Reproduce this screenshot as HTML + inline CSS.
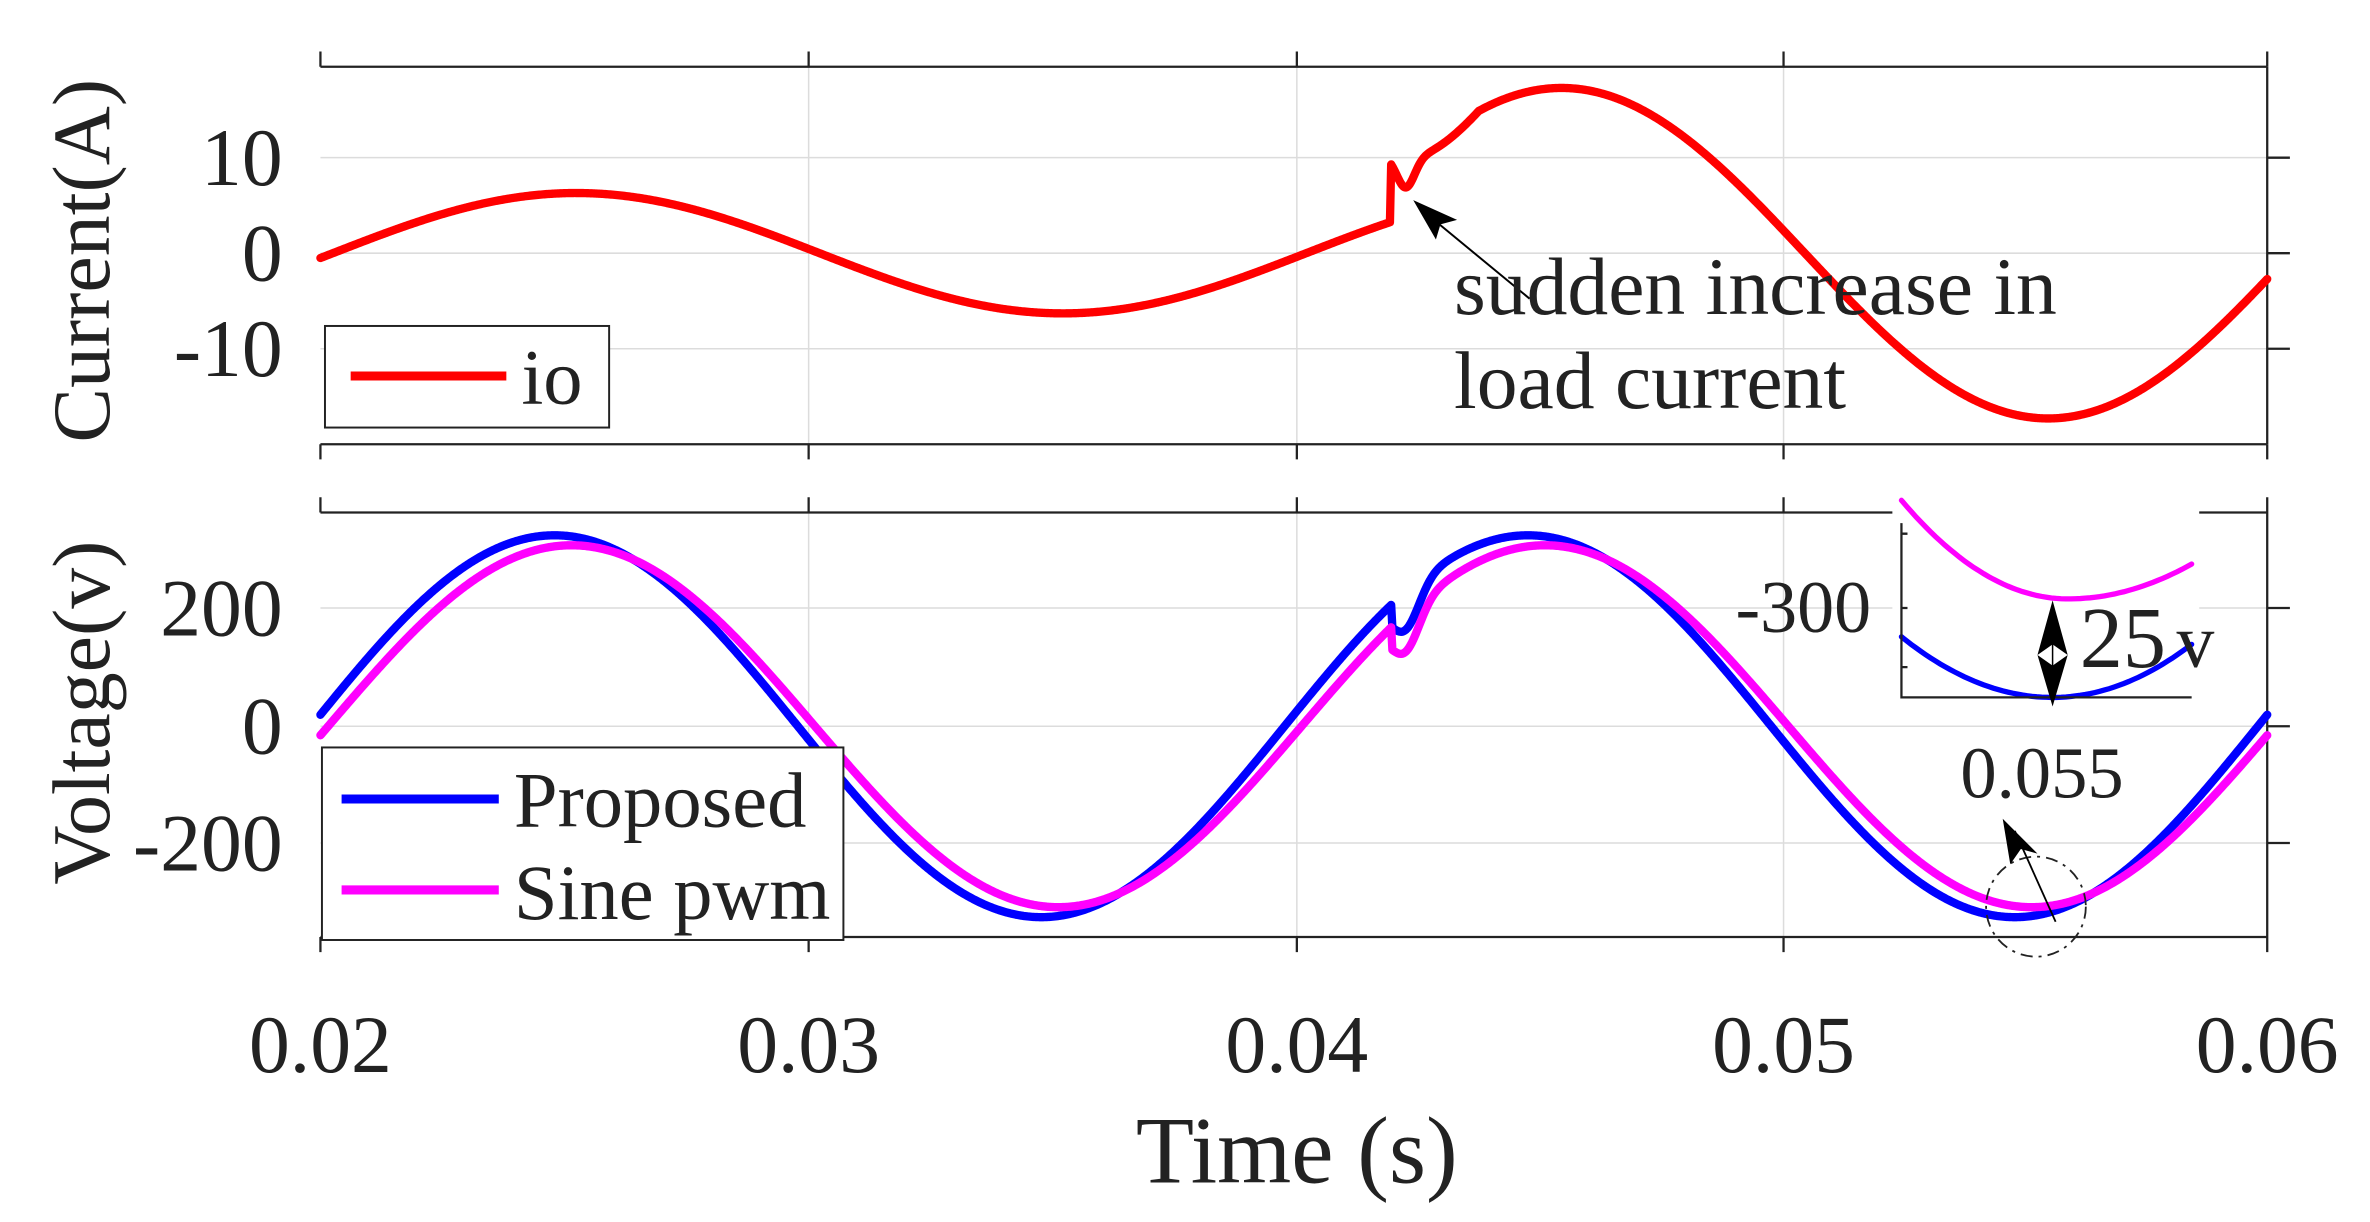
<!DOCTYPE html>
<html><head><meta charset="utf-8"><style>
html,body{margin:0;padding:0;background:#fff;}
svg{display:block;}
text{font-family:"Liberation Serif",serif;fill:#222;}
</style></head><body>
<svg id="s" width="2370" height="1222" viewBox="0 0 1568 806" preserveAspectRatio="none" xmlns="http://www.w3.org/2000/svg">
<g stroke="#dcdcdc" stroke-width="1">
<line x1="535" y1="44" x2="535" y2="293"/><line x1="858" y1="44" x2="858" y2="293"/><line x1="1180" y1="44" x2="1180" y2="293"/>
<line x1="212" y1="104" x2="1500" y2="104"/><line x1="212" y1="167" x2="1500" y2="167"/><line x1="212" y1="230" x2="1500" y2="230"/>
<line x1="535" y1="338" x2="535" y2="618"/><line x1="858" y1="338" x2="858" y2="618"/><line x1="1180" y1="338" x2="1180" y2="618"/>
<line x1="212" y1="401" x2="1500" y2="401"/><line x1="212" y1="479" x2="1500" y2="479"/><line x1="212" y1="556" x2="1500" y2="556"/>
</g>
<g stroke="#222" stroke-width="1.5" fill="none">
<line x1="212" y1="44" x2="1500" y2="44"/><line x1="212" y1="293" x2="1500" y2="293"/>
<line x1="212" y1="338" x2="1500" y2="338"/><line x1="212" y1="618" x2="1500" y2="618"/>
<line x1="1500" y1="44" x2="1500" y2="293"/><line x1="1500" y1="338" x2="1500" y2="618"/>
<path d="M212 34V44M535 34V44M858 34V44M1180 34V44M1500 34V44M212 293V303M535 293V303M858 293V303M1180 293V303M1500 293V303"/>
<path d="M212 328V338M535 328V338M858 328V338M1180 328V338M1500 328V338M212 618V628M535 618V628M858 618V628M1180 618V628M1500 618V628"/>
<path d="M1500 104H1515M1500 167H1515M1500 230H1515M1500 401H1515M1500 479H1515M1500 556H1515"/>
</g>
<g id="curves" fill="none" stroke-linejoin="round" stroke-linecap="round"></g>
<rect x="1252" y="325" width="203" height="138" fill="#fff"/>
<g fill="none" stroke-linecap="round">
<path id="inM" stroke="#ff00ff" stroke-width="3.5"/>
<path id="inB" stroke="#0000ff" stroke-width="3.5"/>
</g>
<path d="M1258 345V460H1450M1258 352h4M1258 401h4M1258 440h4" stroke="#222" stroke-width="1.5" fill="none"/>
<text x="1238" y="417" font-size="49" text-anchor="end">-300</text>
<path d="M1358 396L1348 432L1358 425L1368 432Z M1358 466L1348 432L1358 439L1368 432Z" fill="#000"/>
<line x1="1358" y1="400" x2="1358" y2="460" stroke="#000" stroke-width="1"/>
<text x="1376" y="440" font-size="57">25</text>
<text x="1440" y="440" font-size="50">v</text>
<text x="1297" y="526" font-size="48">0.055</text>
<circle cx="1347" cy="598" r="33" fill="none" stroke="#222" stroke-width="1.2" stroke-dasharray="8,4,2,4"/>
<line x1="1360" y1="608" x2="1333" y2="548" stroke="#000" stroke-width="1.2"/>
<path d="M1325 540L1330 570L1337 560L1348 563Z" fill="#000"/>
<line x1="1012" y1="197" x2="945" y2="142" stroke="#000" stroke-width="1.3"/>
<path d="M935 132L950 158L953 148L964 145Z" fill="#000"/>
<text x="962" y="207" font-size="54">sudden increase in</text>
<text x="962" y="269" font-size="54">load current</text>
<rect x="215" y="215" width="188" height="67" fill="#fff" stroke="#222" stroke-width="1.3"/>
<line x1="232" y1="248" x2="335" y2="248" stroke="#ff0000" stroke-width="6"/>
<text x="345" y="266" font-size="52">io</text>
<rect x="213" y="493" width="345" height="127" fill="#fff" stroke="#222" stroke-width="1.3"/>
<line x1="226" y1="527" x2="330" y2="527" stroke="#0000ff" stroke-width="6"/>
<line x1="226" y1="587" x2="330" y2="587" stroke="#ff00ff" stroke-width="6"/>
<text x="340" y="545" font-size="52">Proposed</text>
<text x="340" y="606" font-size="52">Sine pwm</text>
<g font-size="54" text-anchor="end">
<text x="187" y="122">10</text><text x="187" y="185">0</text><text x="187" y="248">-10</text>
<text x="187" y="419">200</text><text x="187" y="497">0</text><text x="187" y="574">-200</text>
</g>
<g font-size="54" text-anchor="middle">
<text x="212" y="707">0.02</text><text x="535" y="707">0.03</text><text x="858" y="707">0.04</text><text x="1180" y="707">0.05</text><text x="1500" y="707">0.06</text>
</g>
<text x="858" y="780" font-size="63" text-anchor="middle">Time (s)</text>
<text transform="translate(72,172) rotate(-90)" font-size="54" text-anchor="middle">Current(A)</text>
<text transform="translate(72,470) rotate(-90)" font-size="54" text-anchor="middle">Voltage(v)</text>
</svg>
<script>
var X=function(t){return 212+(t-0.02)/0.04*1288;};
var YI=function(v){return 167-v*6.3;};
var YV=function(v){return 479-v*0.3875;};
var w=2*Math.PI*50;
function io(t){
 if(t<0.042) return 6.3*Math.sin(w*(t-0.02)-0.08);
 var nw=17.3*Math.cos(w*(t-0.0455));
 var b=Math.min(1,(t-0.042)/0.0018);
 var v=10+(nw-10)*b;
 v-=3*Math.exp(-Math.pow((t-0.0423)/0.00025,2));
 return v;
}
function vp(t,A,ph){
 var v=A*Math.sin(w*(t-0.02)+ph);
 if(t>0.042){ v-=65*Math.exp(-Math.pow((t-0.0423)/0.0004,2)); }
 return v;
}
function path(f,Y){var d="";for(var i=0;i<=1600;i++){var t=0.02+0.04*i/1600;d+=(i?"L":"M")+X(t).toFixed(2)+" "+Y(f(t)).toFixed(2);}return d;}
var g=document.getElementById("curves"),NS="http://www.w3.org/2000/svg";
function add(d,c){var p=document.createElementNS(NS,"path");p.setAttribute("d",d);p.setAttribute("stroke",c);p.setAttribute("stroke-width","5.5");g.appendChild(p);}
add(path(io,YI),"#ff0000");
add(path(function(t){return vp(t,325,0.06);},YV),"#0000ff");
add(path(function(t){return vp(t,308,-0.05);},YV),"#ff00ff");
function inset(x0,y0,xm,ym,x1,y1){var d="";for(var i=0;i<=60;i++){var x=x0+(x1-x0)*i/60;var k=x<xm?(x-xm)/(x0-xm):(x-xm)/(x1-xm);var yy=x<xm?ym+(y0-ym)*k*k:ym+(y1-ym)*k*k;d+=(i?"L":"M")+x.toFixed(1)+" "+yy.toFixed(1);}return d;}
document.getElementById("inM").setAttribute("d",inset(1258,330,1368,395,1450,372));
document.getElementById("inB").setAttribute("d",inset(1258,420,1358,460,1450,425));
</script>
</body></html>
